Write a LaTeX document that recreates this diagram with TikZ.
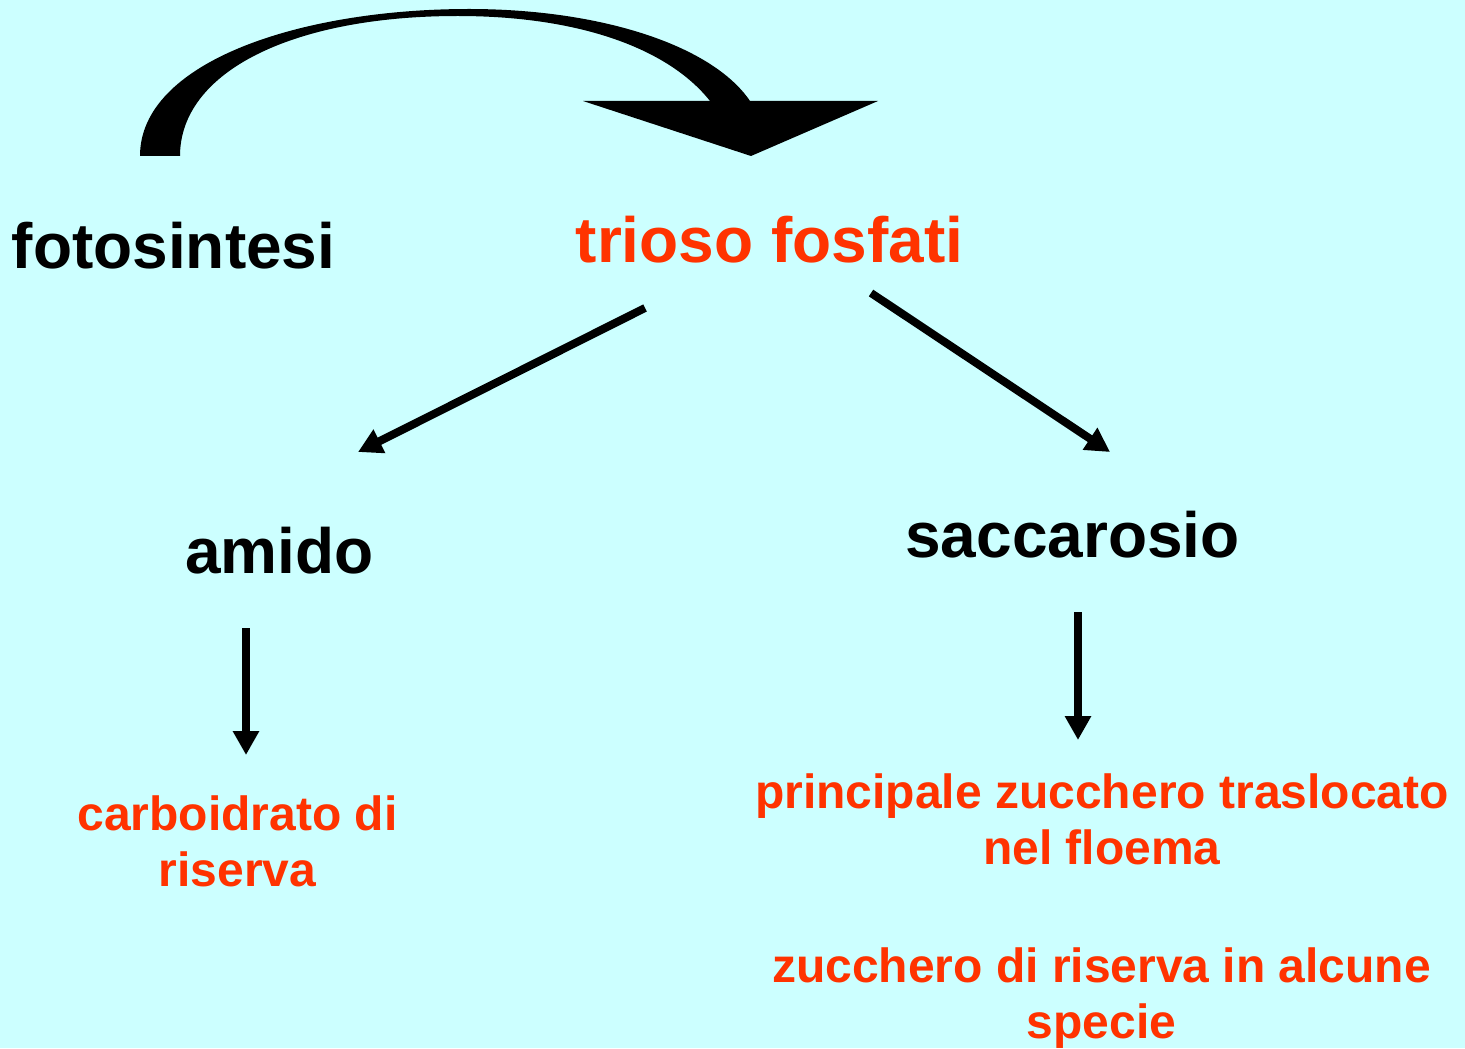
\documentclass[tikz,border=0pt]{standalone}
\usepackage{fontspec}
\setmainfont{Liberation Sans}
\usetikzlibrary{arrows.meta}
\definecolor{bgcyan}{RGB}{204,255,255}
\definecolor{labelred}{RGB}{255,51,0}

\tikzset{
    big/.style={font=\bfseries\fontsize{32}{38}\selectfont, inner sep=0pt, anchor=base},
    note/.style={font=\bfseries\fontsize{24}{28}\selectfont, text=labelred, inner sep=0pt, anchor=base, align=center},
    flow/.style={line width=4pt, -{Triangle[length=12pt, width=12.5pt]}}
}

\begin{document}
\begin{tikzpicture}[x=0.5pt, y=-0.5pt]
    % background
    \fill[bgcyan] (0,0) rectangle (1465,1048);
    \useasboundingbox (0,0) rectangle (1465,1048);

    % main labels
    \node[big] (foto) at (173.5,268) {fotosintesi};
    \node[big, text=labelred] (trioso) at (769.5,262) {trioso fosfati};
    \node[big] (amido) at (279.5,573) {amido};
    \node[big] (sacc) at (1072.5,557) {saccarosio};

    % notes (base = last line)
    \node[note] (riserva) at (237.5,886) {carboidrato di\\riserva};
    \node[note] (floema) at (1102,864) {principale zucchero traslocato\\nel floema};
    \node[note] (specie) at (1101.5,1038) {zucchero di riserva in alcune\\specie};

    % curved arrow
    \fill (140,156) .. controls (140,62) and (300,9) .. (469,9)
        .. controls (600,9) and (712,45) .. (750,101)
        -- (710,101) .. controls (668,48) and (578,16) .. (458,16)
        .. controls (292,16) and (180,72) .. (180,156) -- cycle;
    \fill (583,101) -- (878,101) -- (751,156) -- cycle;

    % arrows
    \draw[flow] ([shift={(-124.5,46)}]trioso.base) -- ([shift={(78.5,-121)}]amido.base);
    \draw[flow] ([shift={(101.5,31)}]trioso.base) -- ([shift={(37.5,-105)}]sacc.base);
    \draw[flow] ([shift={(-33.5,55)}]amido.base) -- ([shift={(8.5,-131)}]riserva.base);
    \draw[flow] ([shift={(5.5,55)}]sacc.base) -- ([shift={(-24,-124)}]floema.base);
\end{tikzpicture}
\end{document}
